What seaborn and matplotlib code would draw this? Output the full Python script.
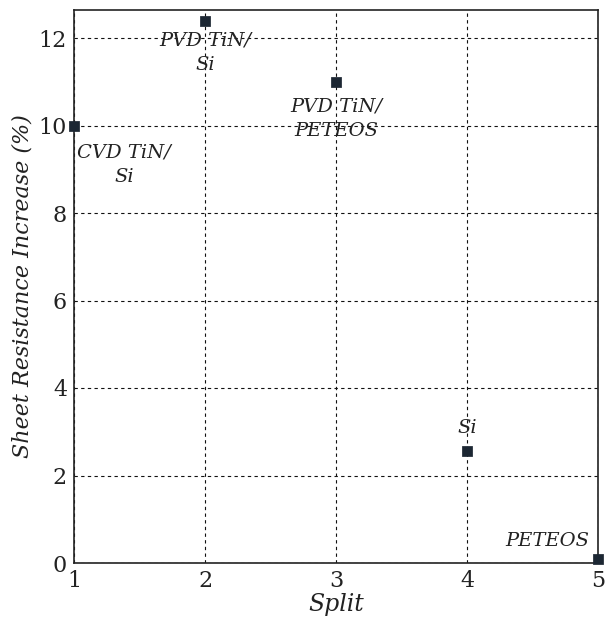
import matplotlib
matplotlib.use("Agg")
import matplotlib.pyplot as plt
import seaborn as sns
import pandas as pd

split = [1, 2, 3, 4, 5]
increase = [10.0, 12.4, 11.0, 2.55, 0.1]
labels = ["CVD TiN/\nSi", "PVD TiN/\nSi", "PVD TiN/\nPETEOS", "Si", "PETEOS"]
label_pos = [(1.38, 9.1), (2.0, 11.66), (3.0, 10.15), (4.0, 3.09), (4.93, 0.5)]
label_ha = ["center", "center", "center", "center", "right"]
xticks = [1, 2, 3, 4, 5]
yticks = [0, 2, 4, 6, 8, 10, 12]

sns.set_style("white")
plt.rcParams["font.family"] = ["DejaVu Serif"]

df = pd.DataFrame({"Split": split, "Increase": increase})

fig = plt.figure(figsize=(6.08, 6.2), dpi=100)
ax = fig.add_axes([74/608, 1-563/620, (598-74)/608, (563-10)/620])
sns.scatterplot(data=df, x="Split", y="Increase", marker="s", s=45,
                color="#1c2733", edgecolor="#1c2733", ax=ax, zorder=5, clip_on=False)

ax.set_xlim(1, 5)
ax.set_ylim(0, 12.64)
ax.set_xticks(xticks)
ax.set_yticks(yticks)
ax.grid(True, color="#111111", linestyle=(0, (3, 3)), linewidth=0.8)
ax.tick_params(axis="x", labelsize=16, length=0, pad=5, colors="#222222")
ax.tick_params(axis="y", labelsize=16, length=0, pad=5, colors="#222222")
for s in ax.spines.values():
    s.set_color("#222222")
    s.set_linewidth(1.2)

ax.set_xlabel("Split", fontsize=17, style="italic", color="#222222", labelpad=1)
ax.set_ylabel("Sheet Resistance Increase (%)", fontsize=16, style="italic",
              color="#222222", labelpad=4)

for lab, (x, y), ha in zip(labels, label_pos, label_ha):
    ax.text(x, y, lab, ha=ha, va="center", fontsize=14, style="italic",
            color="#222222", linespacing=1.45, zorder=6)

fig.savefig("out.png", dpi=100)
